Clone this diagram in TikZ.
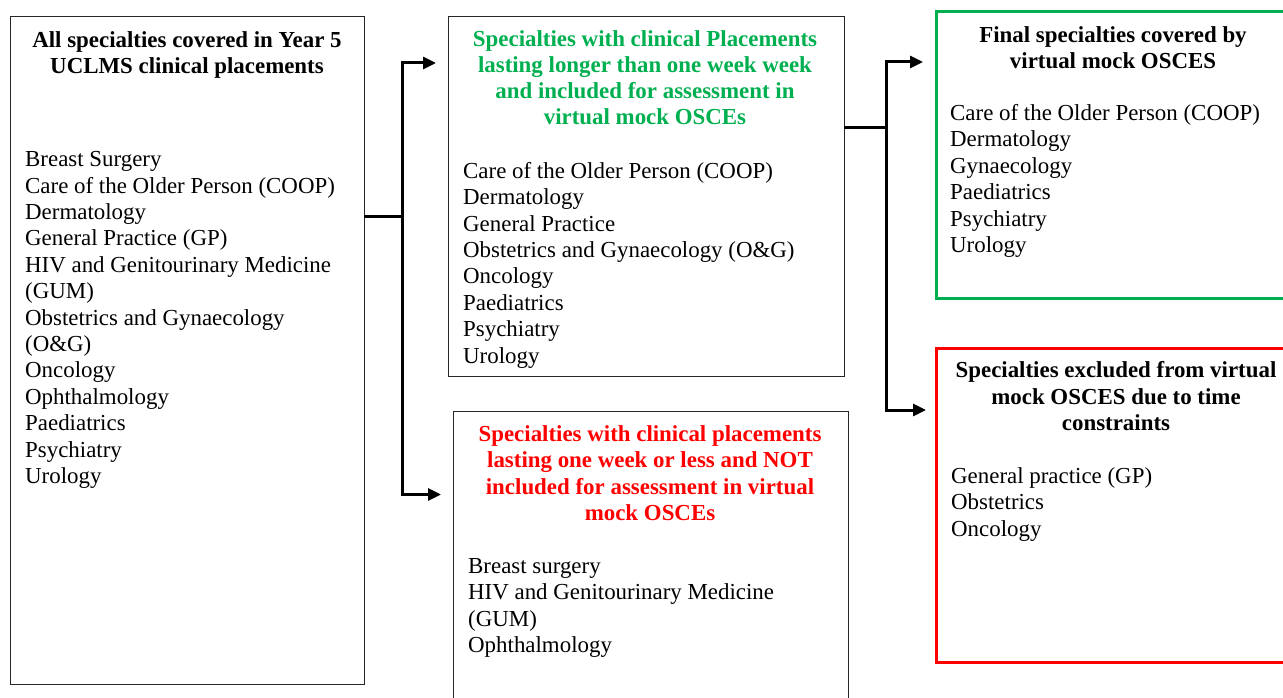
\documentclass[tikz,border=0pt]{standalone}
\usepackage{fontspec}
\setmainfont{Liberation Serif}
\usetikzlibrary{arrows.meta}
\definecolor{hgreen}{RGB}{0,176,80}
\definecolor{hred}{RGB}{255,0,0}
\begin{document}
\begin{tikzpicture}[x=1pt,y=-1pt,
  txt/.style={inner sep=0pt, font=\fontsize{22.9}{26.4}\selectfont},
  hdr/.style={txt, align=center, anchor=base, font=\fontsize{22.9}{26.3}\selectfont\bfseries},
  lst/.style={txt, align=left, anchor=base west},
  blackbox/.style={draw=black!85, line width=1.4pt, anchor=north west, inner sep=0pt},
  greenbox/.style={draw=hgreen, line width=2.8pt, anchor=north west, inner sep=0pt},
  redbox/.style={draw=hred, line width=2.8pt, anchor=north west, inner sep=0pt},
  conn/.style={line width=3pt, line cap=rect},
  arr/.style={line width=3pt, -{Triangle[length=13pt,width=12pt]}}]
\useasboundingbox (0,0) rectangle (1283,698);
\clip (0,0) rectangle (1283,698);
\fill[white] (0,0) rectangle (1283,698);

% boxes
\node[blackbox, minimum width=354pt, minimum height=668pt] (A) at (10,16) {};
\node[blackbox, minimum width=396pt, minimum height=360pt] (B) at (448,16) {};
\node[blackbox, minimum width=395pt, minimum height=320pt] (C) at (452.5,411) {};
\node[greenbox, minimum width=380pt, minimum height=287pt] (D) at (935,10) {};
\node[redbox, minimum width=380pt, minimum height=314pt] (E) at (935,347) {};

% texts (anchor base = baseline of the last line)
\node[hdr] (Ah) at (187,74) {All specialties covered in Year 5\\UCLMS clinical placements};
\node[lst] (Al) at (25,483.5) {Breast Surgery\\Care of the Older Person (COOP)\\Dermatology\\General Practice (GP)\\HIV and Genitourinary Medicine\\(GUM)\\Obstetrics and Gynaecology\\(O\&G)\\Oncology\\Ophthalmology\\Paediatrics\\Psychiatry\\Urology};

\node[hdr, text=hgreen] (Bh) at (645,125) {Specialties with clinical Placements\\lasting longer than one week week\\and included for assessment in\\virtual mock OSCEs};
\node[lst] (Bl) at (463,363) {Care of the Older Person (COOP)\\Dermatology\\General Practice\\Obstetrics and Gynaecology (O\&G)\\Oncology\\Paediatrics\\Psychiatry\\Urology};

\node[hdr, text=hred] (Ch) at (650,520.5) {Specialties with clinical placements\\lasting one week or less and NOT\\included for assessment in virtual\\mock OSCEs};
\node[lst] (Cl) at (468,652.5) {Breast surgery\\HIV and Genitourinary Medicine\\(GUM)\\Ophthalmology};

\node[hdr] (Dh) at (1113,68.5) {Final specialties covered by\\virtual mock OSCES};
\node[lst] (Dl) at (950,252.5) {Care of the Older Person (COOP)\\Dermatology\\Gynaecology\\Paediatrics\\Psychiatry\\Urology};

\node[hdr] (Eh) at (1116,430.5) {Specialties excluded from virtual\\mock OSCES due to time\\constraints};
\node[lst] (El) at (951,536) {General practice (GP)\\Obstetrics\\Oncology};

% connectors
\coordinate (j1) at (402,216.5);
\coordinate (t1) at (436,63);
\coordinate (t2) at (441,494.5);
\draw[conn] (A.east |- j1) -- (j1);
\draw[arr] (j1) |- (t1);
\draw[arr] (j1) |- (t2);

\coordinate (j2) at (886.5,128);
\coordinate (t3) at (923,62);
\coordinate (t4) at (926,410);
\draw[conn] (B.east |- j2) -- (j2);
\draw[arr] (j2) |- (t3);
\draw[arr] (j2) |- (t4);
\end{tikzpicture}
\end{document}
